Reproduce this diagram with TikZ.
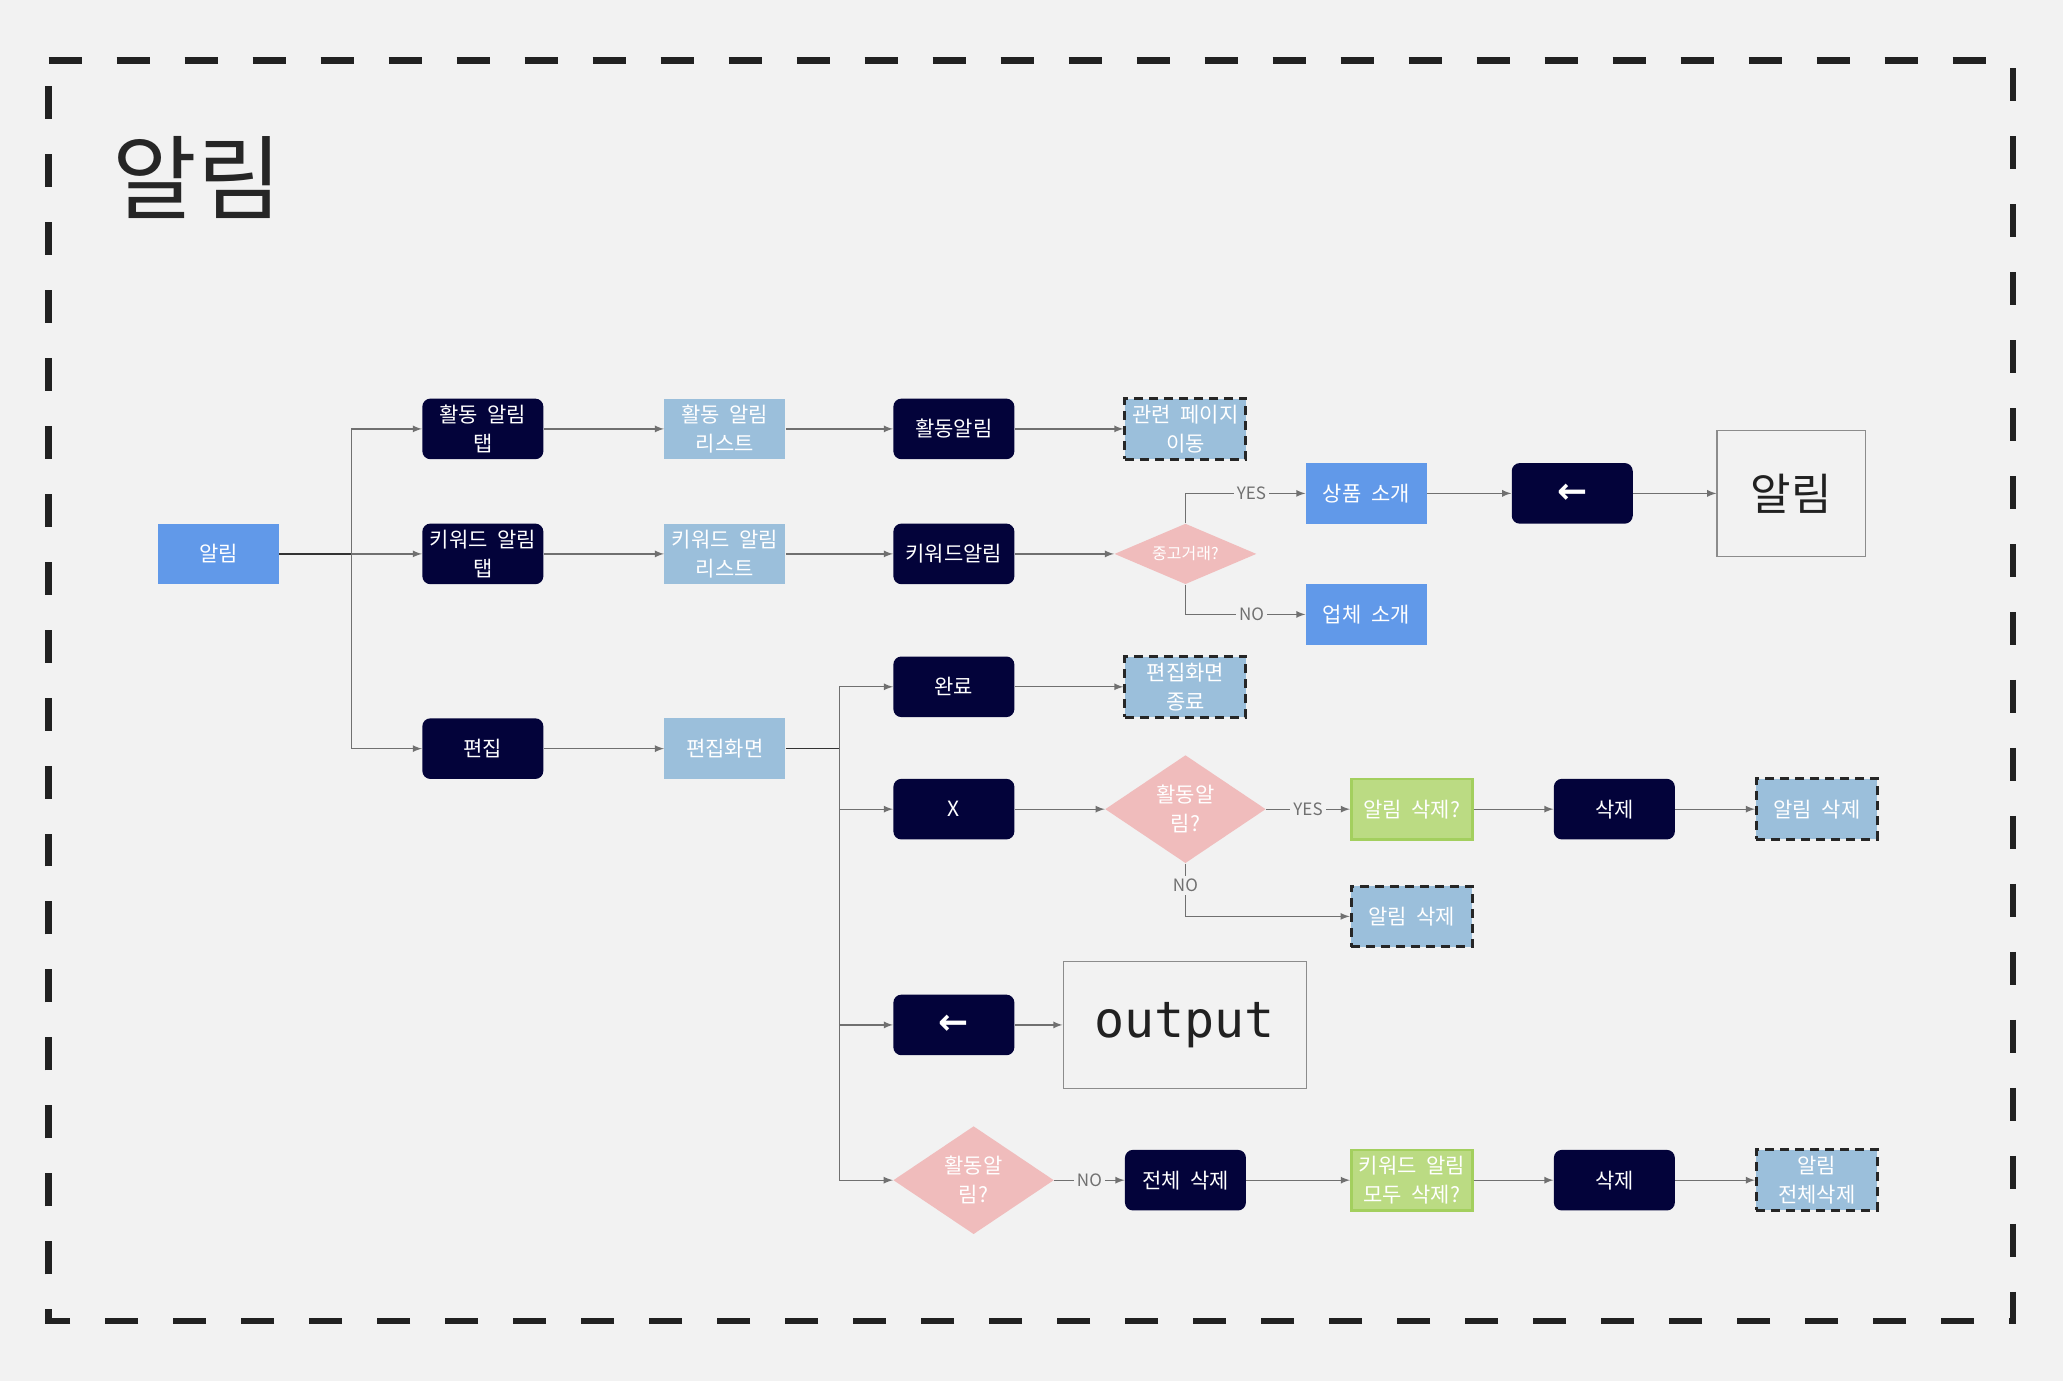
\documentclass[tikz,border=0pt]{standalone}
\usepackage{fontspec}
\setmainfont{Noto Sans CJK KR}
\setmonofont{DejaVu Sans Mono}
\newfontfamily\arrowfont{DejaVu Sans}
\usepackage{xcolor}
\usetikzlibrary{shapes.geometric, arrows, positioning}

\definecolor{pagebg}{HTML}{F2F2F2}
\definecolor{navy}{HTML}{03033A}
\definecolor{skyfill}{HTML}{9BBFDB}
\definecolor{bluefill}{HTML}{6199E9}
\definecolor{pinkfill}{HTML}{F0BCBC}
\definecolor{greenfill}{HTML}{BBDB83}
\definecolor{greenline}{HTML}{A3CF5E}
\definecolor{wire}{HTML}{707070}
\newcommand{\wsp}{\hspace{0.45em}}

\begin{document}
\begin{tikzpicture}[
    x=0.6579pt, y=-0.6579pt,
    box/.style={rectangle, text=white, minimum width=60.5pt, minimum height=30.3pt, inner sep=0pt, align=center, font=\fontsize{10.5}{14.5}\selectfont},
    darkbox/.style={box, fill=navy, rounded corners=4pt},
    bluebox/.style={box, fill=bluefill},
    listbox/.style={box, fill=skyfill},
    endbox/.style={box, fill=skyfill, draw=black!85, line width=1.5pt, dash pattern=on 4.5pt off 3pt},
    askbox/.style={box, fill=greenfill, draw=greenline, line width=1.3pt},
    decide/.style={diamond, aspect=1.5, fill=pinkfill, text=white, inner sep=0pt, align=center, font=\fontsize{10.5}{14.5}\selectfont},
    screen/.style={rectangle, draw=black!45, line width=0.6pt, minimum height=63.2pt, inner sep=0pt, text=black!87},
    arrowbox/.style={darkbox, font=\arrowfont\bfseries\fontsize{18}{18}\selectfont},
    lbl/.style={fill=pagebg, inner sep=1.5pt, font=\fontsize{8.5}{10}\selectfont},
    line/.style={draw, -latex, wire, line width=0.6pt}
]
    \useasboundingbox (0,0) rectangle (1568,1049.6);
    \fill[pagebg] (0,0) rectangle (1568,1049.6);
    \draw[black!87, line width=3.3pt, dash pattern=on 16.5pt off 17.5pt] (37,46) -- (1530,46) -- (1530,1004) -- (37,1004) -- cycle;
    \node[text=black!85, font=\fontsize{46}{46}\selectfont] (title) at (150,135) {알림};

    % tabs
    \node[bluebox] (root) at (166,421) {알림};
    \node[darkbox] (acttab) at (367,326) {활동\wsp 알림\\탭};
    \node[darkbox] (kwtab) at (367,421) {키워드\wsp 알림\\탭};
    \node[darkbox] (edit) at (367,569) {편집};
    \node[listbox] (actlist) at (551,326) {활동\wsp 알림\\리스트};
    \node[listbox] (kwlist) at (551,421) {키워드\wsp 알림\\리스트};
    \node[listbox] (editscr) at (551,569) {편집화면};

    % items
    \node[darkbox] (actalarm) at (725,326) {활동알림};
    \node[darkbox] (kwalarm) at (725,421) {키워드알림};
    \node[darkbox] (done) at (725,522) {완료};
    \node[darkbox] (xbtn) at (725,615) {X};
    \node[arrowbox] (back2) at (725,779) {←};
    \node[endbox] (movepage) at (901,326) {관련\wsp 페이지\\이동};
    \node[decide, minimum width=71pt, minimum height=30.3pt, font=\fontsize{8}{9}\selectfont] (used) at (901,421) {중고거래?};
    \node[endbox] (editend) at (901,522) {편집화면\\종료};
    \node[decide, minimum width=80.3pt, minimum height=54pt] (actq) at (901,615) {활동알\\림?};
    \node[screen, minimum width=121.7pt, font=\ttfamily\fontsize{25}{25}\selectfont] (output) at (900.5,779) {output};

    % keyword branch
    \node[bluebox] (prod) at (1038.5,375) {상품\wsp 소개};
    \node[bluebox] (shop) at (1038.5,467) {업체\wsp 소개};
    \node[arrowbox] (back1) at (1195,375) {←};
    \node[screen, minimum width=74.3pt, font=\fontsize{22}{22}\selectfont] (alarmscr) at (1361.5,375) {알림};

    % delete branch
    \node[askbox] (delq) at (1073,615) {알림\wsp 삭제?};
    \node[endbox] (delnote) at (1073,696.5) {알림\wsp 삭제};
    \node[darkbox] (del1) at (1227,615) {삭제};
    \node[endbox] (delend) at (1381,615) {알림\wsp 삭제};

    % delete all
    \node[decide, minimum width=80.3pt, minimum height=54pt] (actq2) at (740,897) {활동알\\림?};
    \node[darkbox] (delall) at (901,897) {전체\wsp 삭제};
    \node[askbox] (kwq) at (1073,897) {키워드\wsp 알림\\모두\wsp 삭제?};
    \node[darkbox] (del2) at (1227,897) {삭제};
    \node[endbox] (delallend) at (1381,897) {알림\\전체삭제};

    \coordinate (fork) at (267,421);
    \coordinate (fork2) at (638,569);

    \draw[black!80, line width=0.6pt] (root) -- (fork);
    \path [line] (fork) |- (acttab);
    \path [line] (fork) -- (kwtab);
    \path [line] (fork) |- (edit);
    \path [line] (acttab) -- (actlist);
    \path [line] (kwtab) -- (kwlist);
    \path [line] (edit) -- (editscr);
    \path [line] (actlist) -- (actalarm);
    \path [line] (kwlist) -- (kwalarm);
    \draw[black!80, line width=0.6pt] (editscr) -- (fork2);
    \path [line] (fork2) |- (done);
    \path [line] (fork2) |- (xbtn);
    \path [line] (fork2) |- (back2);
    \path [line] (fork2) |- (actq2);

    \path [line] (actalarm) -- (movepage);
    \path [line] (kwalarm) -- (used);
    \path [line] (used.north) |- node[lbl, pos=0.775] {YES} (prod);
    \path [line] (used.south) |- node[lbl, pos=0.775] {NO} (shop);
    \path [line] (prod) -- (back1);
    \path [line] (back1) -- (alarmscr);
    \path [line] (done) -- (editend);

    \path [line] (xbtn) -- (actq);
    \path [line] (actq) -- node[lbl] {YES} (delq);
    \path [line] (actq.south) |- node[lbl, pos=0.21] {NO} (delnote);
    \path [line] (delq) -- (del1);
    \path [line] (del1) -- (delend);
    \path [line] (back2) -- (output);

    \path [line] (actq2) -- node[lbl] {NO} (delall);
    \path [line] (delall) -- (kwq);
    \path [line] (kwq) -- (del2);
    \path [line] (del2) -- (delallend);
\end{tikzpicture}
\end{document}
